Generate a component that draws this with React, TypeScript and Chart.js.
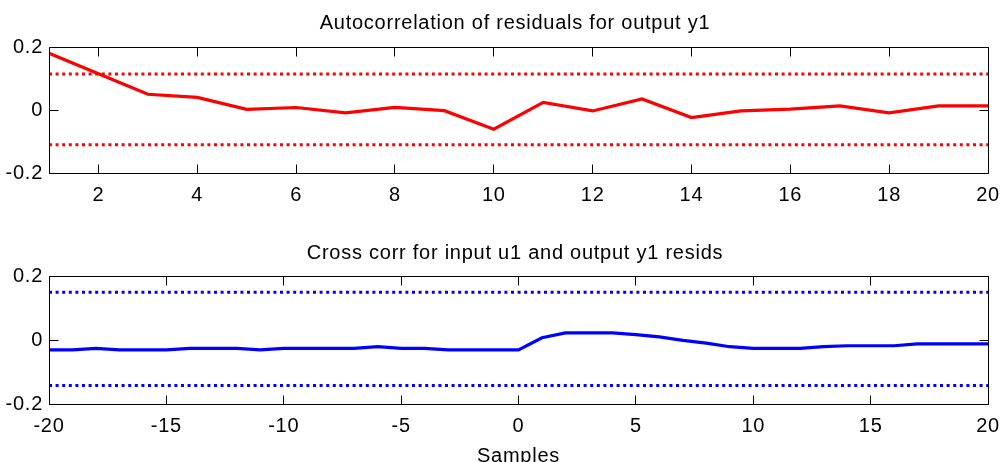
import React, { useEffect, useRef } from 'react';
import { Chart, registerables } from 'chart.js';

Chart.register(...registerables);

// ---- Data ----
const acfLags = [1, 2, 3, 4, 5, 6, 7, 8, 9, 10, 11, 12, 13, 14, 15, 16, 17, 18, 19, 20];
const acfValues = [0.18, 0.115, 0.05, 0.04, 0.002, 0.008, -0.009, 0.008, -0.002, -0.061, 0.024, -0.003, 0.035, -0.024, -0.003, 0.003, 0.013, -0.009, 0.013, 0.013];
const acfBoundUpper = 0.114;
const acfBoundLower = -0.11;
const acfXTicks = [2, 4, 6, 8, 10, 12, 14, 16, 18, 20];

const ccLags = [-20, -19, -18, -17, -16, -15, -14, -13, -12, -11, -10, -9, -8, -7, -6, -5, -4, -3, -2, -1, 0, 1, 2, 3, 4, 5, 6, 7, 8, 9, 10, 11, 12, 13, 14, 15, 16, 17, 18, 19, 20];
const ccValues = [-0.031, -0.031, -0.026, -0.031, -0.031, -0.031, -0.026, -0.026, -0.026, -0.031, -0.026, -0.026, -0.026, -0.026, -0.021, -0.026, -0.026, -0.031, -0.031, -0.031, -0.031, 0.007, 0.022, 0.022, 0.022, 0.017, 0.01, -0.001, -0.01, -0.021, -0.026, -0.026, -0.026, -0.021, -0.018, -0.018, -0.018, -0.012, -0.012, -0.012, -0.012];
const ccBoundUpper = 0.149;
const ccBoundLower = -0.142;
const ccXTicks = [-20, -15, -10, -5, 0, 5, 10, 15, 20];

const yTicks = [-0.2, 0, 0.2];

const acfTitle = 'Autocorrelation of residuals for output y1';
const ccTitle = 'Cross corr for input u1 and output y1 resids';
const ccXLabel = 'Samples';

const FONT_FAMILY = '"Liberation Sans", Arial, Helvetica, sans-serif';
const FONT_SIZE = 20;
const LETTER_SPACING = '0.75px';
const TICK_LEN = 9;
const TITLE_SHIFT = 7;

const spacing = {
  id: 'spacing',
  beforeUpdate(chart: any) {
    chart.ctx.letterSpacing = LETTER_SPACING;
  },
  afterLayout(chart: any) {
    const tb = chart.titleBlock;
    if (tb) tb.left -= TITLE_SHIFT;
  },
  beforeDraw(chart: any) {
    chart.ctx.letterSpacing = LETTER_SPACING;
  },
};

const matlabBox = {
  id: 'matlabBox',
  afterDatasetsDraw(chart: any) {
    const { ctx, chartArea } = chart;
    const l = Math.floor(chartArea.left) + 0.5;
    const r = Math.floor(chartArea.right) + 0.5;
    const t = Math.floor(chartArea.top) + 0.5;
    const b = Math.floor(chartArea.bottom) + 0.5;
    ctx.save();
    ctx.strokeStyle = '#000';
    ctx.lineWidth = 1;
    ctx.beginPath();
    ctx.rect(l, t, r - l, b - t);
    const xs = chart.scales.x;
    xs.ticks.forEach((tk: any) => {
      const px = Math.floor(xs.getPixelForValue(tk.value)) + 0.5;
      ctx.moveTo(px, t);
      ctx.lineTo(px, t + TICK_LEN);
      ctx.moveTo(px, b);
      ctx.lineTo(px, b - TICK_LEN);
    });
    const ys = chart.scales.y;
    ys.ticks.forEach((tk: any) => {
      const py = Math.floor(ys.getPixelForValue(tk.value)) + 0.5;
      ctx.moveTo(l, py);
      ctx.lineTo(l + TICK_LEN, py);
      ctx.moveTo(r, py);
      ctx.lineTo(r - TICK_LEN, py);
    });
    ctx.stroke();
    ctx.restore();
  },
};

function buildConfig(opts: {
  lags: number[];
  values: number[];
  upper: number;
  lower: number;
  color: string;
  xTicks: number[];
  title: string;
  titlePadTop: number;
  titlePadBottom: number;
  xHeight: number;
  xLabel?: string;
}) {
  const xmin = opts.lags[0];
  const xmax = opts.lags[opts.lags.length - 1];
  const pts = opts.lags.map((x, i) => ({ x, y: opts.values[i] }));
  const font = { family: FONT_FAMILY, size: FONT_SIZE, weight: 'normal' as const, lineHeight: 1.2 };
  return {
    type: 'line' as const,
    data: {
      datasets: [
        {
          data: [{ x: xmin, y: opts.upper }, { x: xmax, y: opts.upper }],
          borderColor: opts.color,
          borderWidth: 3,
          borderDash: [3, 3.6],
          pointRadius: 0,
          fill: false,
        },
        {
          data: [{ x: xmin, y: opts.lower }, { x: xmax, y: opts.lower }],
          borderColor: opts.color,
          borderWidth: 3,
          borderDash: [3, 3.6],
          pointRadius: 0,
          fill: false,
        },
        {
          data: pts,
          borderColor: opts.color,
          borderWidth: 3.2,
          pointRadius: 0,
          tension: 0,
          fill: false,
        },
      ],
    },
    options: {
      responsive: false,
      animation: false as const,
      devicePixelRatio: 1,
      layout: { padding: { left: 0, right: 13, top: 0, bottom: 0 } },
      plugins: {
        legend: { display: false },
        tooltip: { enabled: false },
        title: {
          display: true,
          fullSize: false,
          text: opts.title,
          color: '#000',
          font,
          padding: { top: opts.titlePadTop, bottom: opts.titlePadBottom },
        },
      },
      scales: {
        x: {
          type: 'linear' as const,
          min: xmin,
          max: xmax,
          afterBuildTicks: (s: any) => {
            s.ticks = opts.xTicks.map((v) => ({ value: v }));
          },
          afterFit: (s: any) => {
            s.height = opts.xHeight;
            s.paddingLeft = 0;
            s.paddingRight = 0;
          },
          grid: { display: false, drawTicks: false },
          border: { display: false },
          ticks: {
            autoSkip: false,
            maxRotation: 0,
            color: '#000',
            font,
            padding: 10,
            callback: (v: any) => String(v),
          },
          title: opts.xLabel
            ? { display: true, text: opts.xLabel, color: '#000', font, padding: { top: 0, bottom: 3 } }
            : { display: false },
        },
        y: {
          type: 'linear' as const,
          min: -0.2,
          max: 0.2,
          afterBuildTicks: (s: any) => {
            s.ticks = yTicks.map((v) => ({ value: v }));
          },
          afterFit: (s: any) => {
            s.width = 49;
            s.paddingTop = 0;
            s.paddingBottom = 0;
          },
          grid: { display: false, drawTicks: false },
          border: { display: false },
          ticks: {
            color: '#000',
            font,
            padding: 6,
            callback: (v: any) => String(v),
          },
        },
      },
    },
    plugins: [spacing, matlabBox],
  };
}

export default function App() {
  const topRef = useRef<HTMLCanvasElement>(null);
  const botRef = useRef<HTMLCanvasElement>(null);

  useEffect(() => {
    const c1 = new Chart(
      topRef.current as HTMLCanvasElement,
      buildConfig({
        lags: acfLags,
        values: acfValues,
        upper: acfBoundUpper,
        lower: acfBoundLower,
        color: '#ff0000',
        xTicks: acfXTicks,
        title: acfTitle,
        titlePadTop: 11,
        titlePadBottom: 12,
        xHeight: 58,
      }) as any
    );
    const c2 = new Chart(
      botRef.current as HTMLCanvasElement,
      buildConfig({
        lags: ccLags,
        values: ccValues,
        upper: ccBoundUpper,
        lower: ccBoundLower,
        color: '#0000ff',
        xTicks: ccXTicks,
        title: ccTitle,
        titlePadTop: 10,
        titlePadBottom: 11,
        xHeight: 67,
        xLabel: ccXLabel,
      }) as any
    );
    return () => {
      c1.destroy();
      c2.destroy();
    };
  }, []);

  return (
    <div
      style={{
        position: 'fixed',
        left: 0,
        top: 0,
        width: 1001,
        height: 462,
        overflow: 'hidden',
        background: '#fff',
      }}
    >
      <canvas ref={topRef} width={1001} height={231} style={{ position: 'absolute', left: 0, top: 0 }} />
      <canvas ref={botRef} width={1001} height={240} style={{ position: 'absolute', left: 0, top: 231 }} />
    </div>
  );
}
